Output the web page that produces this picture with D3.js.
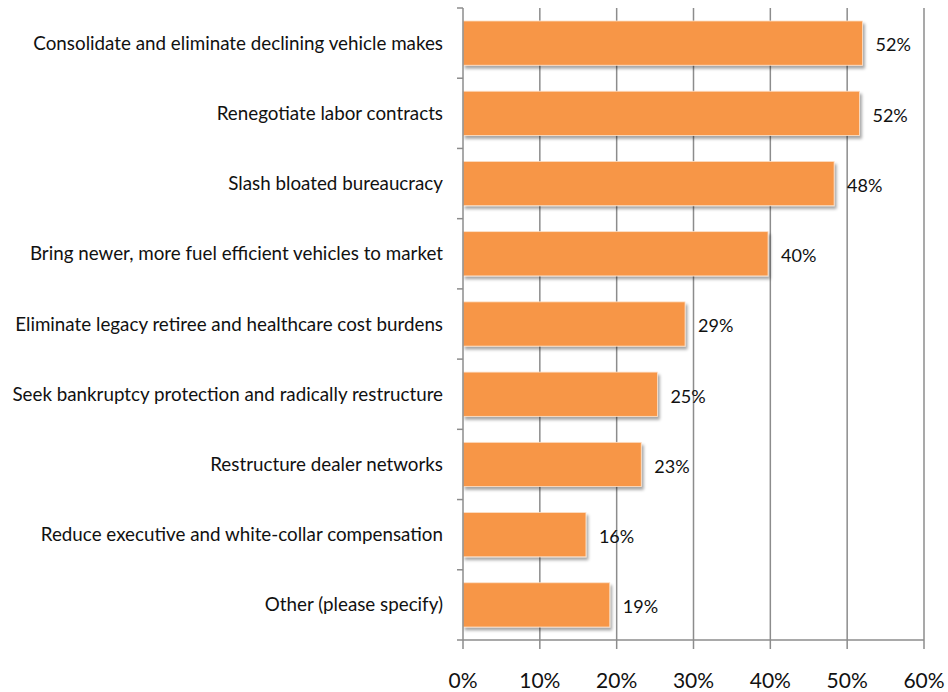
<!DOCTYPE html>
<html>
<head>
<meta charset="utf-8">
<script src="https://cdn.jsdelivr.net/npm/d3@7"></script>
<style>
  body { margin: 0; background: #fff; }
  text { font-family: Lato, "Liberation Sans", sans-serif; }
</style>
</head>
<body>
<div id="viz"></div>
<script>
// data
const categories = [
  "Consolidate and eliminate declining vehicle makes",
  "Renegotiate labor contracts",
  "Slash bloated bureaucracy",
  "Bring newer, more fuel efficient vehicles to market",
  "Eliminate legacy retiree and healthcare cost burdens",
  "Seek bankruptcy protection and radically restructure",
  "Restructure dealer networks",
  "Reduce executive and white-collar compensation",
  "Other (please specify)"
];
const values = [0.52, 0.516, 0.483, 0.397, 0.289, 0.253, 0.232, 0.16, 0.191];
const valueLabels = ["52%", "52%", "48%", "40%", "29%", "25%", "23%", "16%", "19%"];
const xTicks = [0, 0.1, 0.2, 0.3, 0.4, 0.5, 0.6];

const data = categories.map((c, i) => ({ cat: c, value: values[i], label: valueLabels[i] }));

// dimensions
const dms = {
  width: 948,
  height: 692,
  margins: { top: 8, bottom: 52, left: 463, right: 24 }
};
dms.innerWidth = dms.width - dms.margins.left - dms.margins.right;
dms.innerHeight = dms.height - dms.margins.top - dms.margins.bottom;

const svg = d3.select("#viz")
  .append("svg")
    .attr("width", dms.width)
    .attr("height", dms.height);

const defs = svg.append("defs");
const shadow = defs.append("filter")
  .attr("id", "shadow")
  .attr("x", "-5%").attr("y", "-20%")
  .attr("width", "115%").attr("height", "160%");
shadow.append("feDropShadow")
  .attr("dx", 2).attr("dy", 3)
  .attr("stdDeviation", 1.6)
  .attr("flood-color", "#000")
  .attr("flood-opacity", 0.35);

const g = svg.append("g")
  .attr("transform", `translate(${dms.margins.left},${dms.margins.top})`);

// scales
const x = d3.scaleLinear().domain([0, 0.6]).range([0, dms.innerWidth]);
const y = d3.scaleBand().domain(categories).range([0, dms.innerHeight]).paddingInner(0.37).paddingOuter(0.185);
const yBands = d3.scaleBand().domain(categories).range([0, dms.innerHeight]);

// gridlines
g.append("g")
  .selectAll("line")
  .data(xTicks.slice(1))
  .join("line")
    .attr("x1", d => x(d)).attr("x2", d => x(d))
    .attr("y1", 0).attr("y2", dms.innerHeight)
    .attr("stroke", "#8c8c8c")
    .attr("stroke-width", 1.5);

// bars
g.append("g")
  .selectAll("rect")
  .data(data)
  .join("rect")
    .attr("x", 0)
    .attr("y", d => y(d.cat))
    .attr("width", d => x(d.value))
    .attr("height", y.bandwidth())
    .attr("fill", "#f79646")
    .attr("stroke", "#fde0c8")
    .attr("stroke-width", 0.8)
    .attr("filter", "url(#shadow)");

// value labels
g.append("g")
  .selectAll("text")
  .data(data)
  .join("text")
    .attr("x", d => x(d.value) + 13)
    .attr("y", d => y(d.cat) + y.bandwidth() / 2 + 2)
    .attr("dy", "0.35em")
    .attr("font-size", 18)
    .attr("fill", "#111")
    .text(d => d.label);

// y axis
const yAxis = g.append("g");
yAxis.append("line")
  .attr("x1", 0).attr("x2", 0)
  .attr("y1", 0).attr("y2", dms.innerHeight)
  .attr("stroke", "#8c8c8c").attr("stroke-width", 1.5);
yAxis.selectAll("line.tick")
  .data(categories.concat(["end"]))
  .join("line")
    .attr("class", "tick")
    .attr("x1", -6).attr("x2", 0)
    .attr("y1", (d, i) => i * yBands.step())
    .attr("y2", (d, i) => i * yBands.step())
    .attr("stroke", "#8c8c8c").attr("stroke-width", 1.5);
yAxis.selectAll("text")
  .data(categories)
  .join("text")
    .attr("x", -20)
    .attr("y", d => yBands(d) + yBands.bandwidth() / 2)
    .attr("dy", "0.35em")
    .attr("text-anchor", "end")
    .attr("font-size", 18.8)
    .attr("fill", "#111")
    .text(d => d);

// x axis
const xAxis = g.append("g").attr("transform", `translate(0,${dms.innerHeight})`);
xAxis.append("line")
  .attr("x1", 0).attr("x2", dms.innerWidth)
  .attr("stroke", "#8c8c8c").attr("stroke-width", 1.5);
xAxis.selectAll("line.tick")
  .data(xTicks)
  .join("line")
    .attr("class", "tick")
    .attr("x1", d => x(d)).attr("x2", d => x(d))
    .attr("y1", 0).attr("y2", 9)
    .attr("stroke", "#8c8c8c").attr("stroke-width", 1.5);
xAxis.selectAll("text")
  .data(xTicks)
  .join("text")
    .attr("x", d => x(d))
    .attr("y", 48)
    .attr("text-anchor", "middle")
    .attr("font-size", 21)
    .attr("fill", "#111")
    .text(d3.format(".0%"));
</script>
</body>
</html>
